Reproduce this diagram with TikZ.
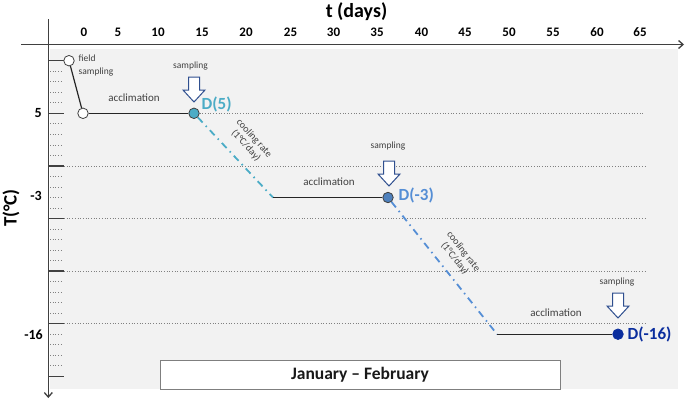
\documentclass[tikz,border=0pt]{standalone}
\usepackage{fontspec}
\setmainfont{Carlito}
\usetikzlibrary{arrows.meta}
\definecolor{bggray}{HTML}{F2F2F2}
\definecolor{axisgray}{HTML}{404040}
\definecolor{txtgray}{HTML}{404040}
\definecolor{gridgray}{HTML}{808080}
\definecolor{boxgray}{HTML}{7F7F7F}
\definecolor{dfivecol}{HTML}{4BACC6}
\definecolor{dthreecol}{HTML}{4F81BD}
\definecolor{dthreetxt}{HTML}{558ED5}
\definecolor{dsixteencol}{HTML}{0B2E9E}
\definecolor{arrowblue}{HTML}{2F4F8F}
\tikzset{
  axisline/.style={draw=axisgray, line width=1.3pt},
  majtick/.style={draw=axisgray, line width=1.3pt},
  mintick/.style={draw=gridgray, dotted, line width=0.7pt},
  gridline/.style={draw=gridgray, dotted, line width=0.7pt},
  dataline/.style={draw=black!85, line width=1.2pt},
  coolline/.style={line width=1.8pt, dash pattern=on 7pt off 4.5pt on 1.5pt off 4.5pt},
  datapt/.style={circle, draw=black!75, line width=0.8pt, inner sep=0pt, minimum size=10.5pt},
  lbl/.style={text=txtgray, font=\fontsize{9.5}{12.5}\selectfont, inner sep=0pt},
  acclbl/.style={text=txtgray, font=\fontsize{11}{12}\selectfont, inner sep=0pt},
  coollbl/.style={text=txtgray, font=\fontsize{10}{11}\selectfont, inner sep=0pt, align=center},
  dlbl/.style={font=\bfseries\fontsize{17}{19}\selectfont, inner sep=0pt, anchor=west},
  xtick/.style={text=black, font=\bfseries\fontsize{13}{15}\selectfont, inner sep=0pt, anchor=base},
  ytick/.style={text=black, font=\bfseries\fontsize{14}{16}\selectfont, inner sep=0pt, anchor=east},
  sarrow/.pic={\draw[draw=arrowblue, fill=white, line width=1pt, line join=miter]
     (-5.5,0) -- (5.5,0) -- (5.5,13) -- (11,13) -- (0,25) -- (-11,13) -- (-5.5,13) -- cycle;}
}
\begin{document}
\begin{tikzpicture}[x=1pt,y=-1pt]
\useasboundingbox (0,0) rectangle (685,400);
\fill[bggray] (50,49) rectangle (678,389);

% axes
\coordinate (xa0) at (21,44.5);
\coordinate (xa1) at (684,44.5);
\coordinate (ya0) at (48.3,19);
\coordinate (ya1) at (48.3,398);
\draw[axisline, -{Straight Barb[length=4.5pt,width=8pt]}] (xa0) -- (xa1);
\draw[axisline, -{Straight Barb[length=4.5pt,width=8pt]}] (ya0) -- (ya1);

% ticks
\foreach \k in {0,...,6} {
  \draw[majtick] (48.3,{60.7+52.6*\k}) -- (64,{60.7+52.6*\k});
}
\foreach \k in {0,...,5} {
  \foreach \m in {1,...,4} {
    \draw[mintick] (50,{60.7+52.6*\k+10.52*\m}) -- (63,{60.7+52.6*\k+10.52*\m});
  }
}
% horizontal dotted grid lines
\foreach \k in {2,...,5} {
  \draw[gridline] (64,{60.7+52.6*\k}) -- (645,{60.7+52.6*\k});
}

% x tick labels
\foreach \v/\x in {0/84,5/118,10/158,15/202,20/246,25/290.5,30/333.5,35/377,40/421.5,45/465,50/509,55/553,60/597,65/640} {
  \node[xtick] at (\x,36.5) {\v};
}
% y tick labels
\node[ytick] (y5) at (42,113.3) {5};
\node[ytick] (y3) at (42,195.5) {-3};
\node[ytick] (y16) at (43,335) {-16};

% axis titles
\node[font=\bfseries\fontsize{20}{24}\selectfont, inner sep=0pt, anchor=base] (xt) at (356.5,17.5) {t (days)};
\node[font=\bfseries\fontsize{19}{22}\selectfont, inner sep=0pt, rotate=90] (yt) at (11,208) {T(°C)};

% data points
\node[datapt, fill=white] (fs) at (69,60.7) {};
\node[datapt, fill=white] (ac1) at (83,113.3) {};
\node[datapt, fill=dfivecol] (d5) at (194,113.3) {};
\coordinate (ac2) at (273,197.5);
\node[datapt, fill=dthreecol] (d3) at (388,197.5) {};
\coordinate (ac3) at (497,334.2);
\node[datapt, fill=dsixteencol, draw=dsixteencol] (d16) at (618,334.2) {};
\coordinate (g5) at (645,113.3);

\draw[gridline] (d5.east) -- (g5);
\draw[dataline] (fs) -- (ac1);
\draw[dataline] (ac1) -- (d5);
\draw[coolline, draw=dfivecol] (d5) -- (ac2);
\draw[dataline] (ac2) -- (d3);
\draw[coolline, draw=dthreetxt] (d3) -- (ac3);
\draw[dataline] (ac3) -- (d16);

% D labels
\node[dlbl, text=dfivecol] (ld5) at (201.5,104) {D(5)};
\node[dlbl, text=dthreetxt] (ld3) at (398.5,195.5) {D(-3)};
\node[dlbl, text=dsixteencol] (ld16) at (627.5,334.5) {D(-16)};

% sampling arrows and labels
\pic at (194,77) {sarrow};
\pic at (389,161) {sarrow};
\pic at (618,293) {sarrow};
\node[lbl] (s1) at (190.5,66) {sampling};
\node[lbl] (s2) at (388,146.5) {sampling};
\node[lbl] (s3) at (617,282.5) {sampling};
\node[lbl, align=left, anchor=west] (fsl) at (78.5,65.5) {field\\sampling};

% acclimation labels
\node[acclbl] (a1) at (134,98) {acclimation};
\node[acclbl] (a2) at (329,182) {acclimation};
\node[acclbl] (a3) at (556,313) {acclimation};

% cooling rate labels
\node[coollbl, rotate=-48] (cr1) at (250,142) {cooling rate\\(1°C/day)};
\node[coollbl, rotate=-52] (cr2) at (459,255) {cooling rate\\(1°C/day)};

% month box
\node[draw=boxgray, fill=white, line width=1pt, minimum width=400pt, minimum height=29pt,
      inner sep=0pt, font=\bfseries\fontsize{17.5}{20}\selectfont, text=black!90] (month) at (360,374.5) {January – February};
\end{tikzpicture}
\end{document}
